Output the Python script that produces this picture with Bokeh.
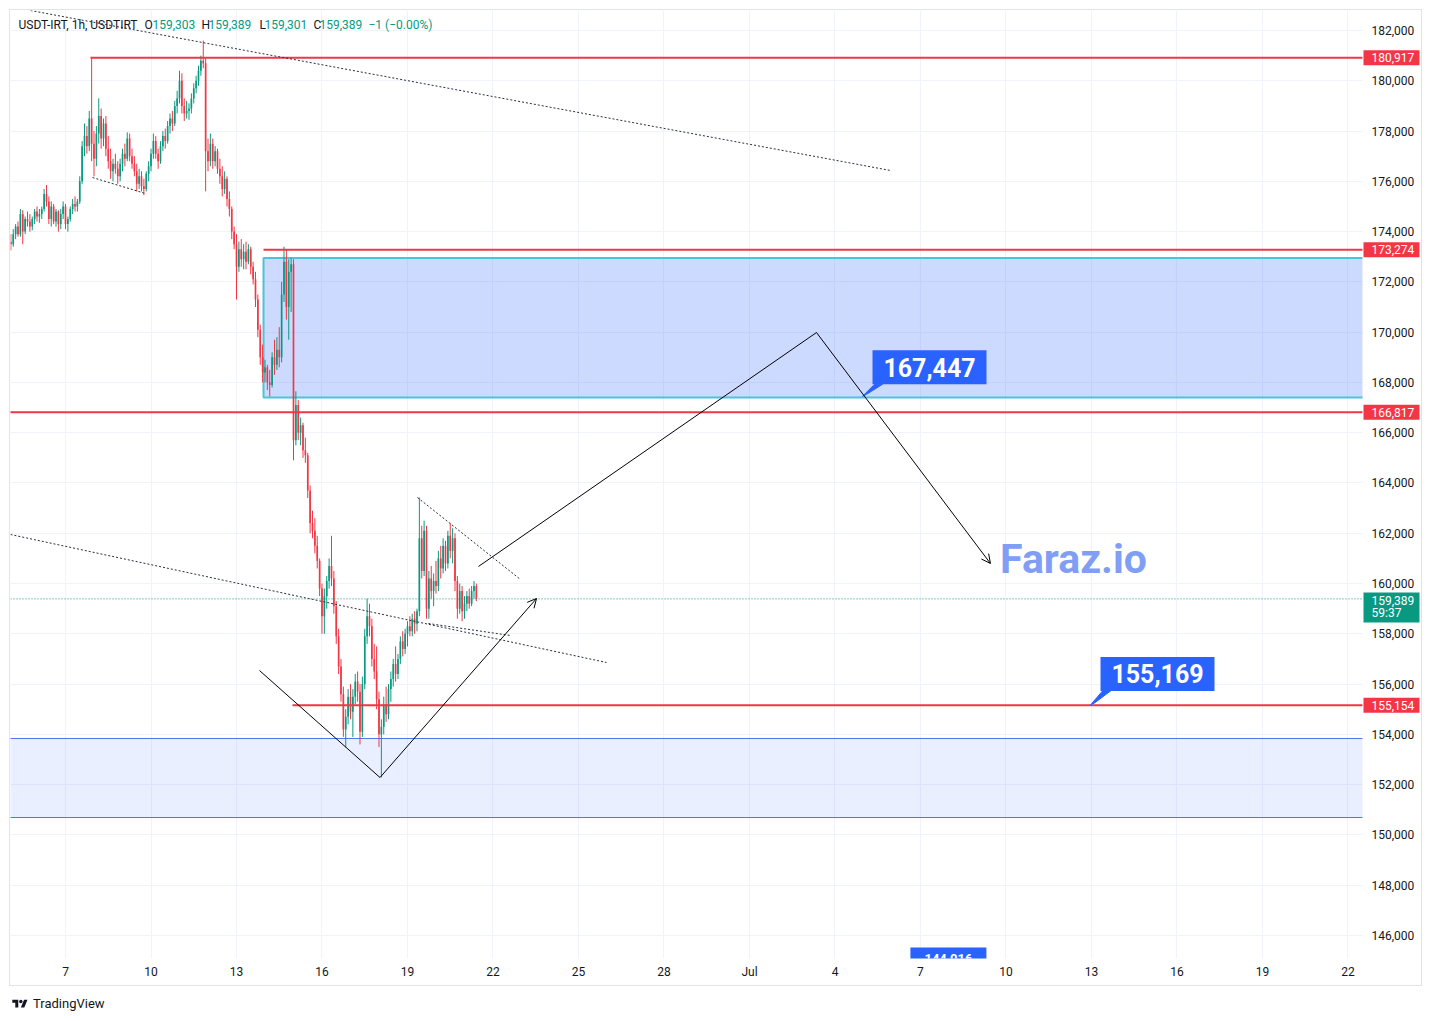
import numpy as np
import pandas as pd
from bokeh.plotting import figure
from bokeh.models import (ColumnDataSource, FixedTicker, Range1d, Label, Arrow,
                          OpenHead, Div, NumeralTickFormatter)
from bokeh.layouts import column
from bokeh.embed import file_html
from bokeh.resources import INLINE
from bokeh.core.properties import value

# ---------------- data ----------------
symbol_title = "USDT-IRT, 1h, USDTIRT"
ohlc_keys = ["O", "H", "L", "C"]
ohlc_vals = ["159,303", "159,389", "159,301", "159,389"]
change_text = "\u22121 (\u22120.00%)"

candle_start = "2025-06-05 02:00"
candle_hours = 2

opens = [173600, 173500, 173900, 174200, 173900, 174700, 174000, 174500, 174400, 174200,
         174500, 174800, 174600, 174700, 174900, 175500, 175200, 174500, 175000, 174400,
         174800, 174300, 174700, 175000, 174300, 174500, 174900, 175100, 175000, 175200,
         176000, 177400, 177800, 177400, 178500, 177500, 176900, 177900, 178600, 177700,
         178300, 177300, 176800, 176400, 176700, 176500, 176200, 176700, 177100, 176900,
         177700, 177000, 176700, 176400, 175900, 176200, 175800, 175700, 176300, 176600,
         177100, 177600, 177100, 176800, 177400, 177800, 177600, 178200, 178500, 178300,
         179000, 179300, 180000, 179000, 178700, 178800, 178900, 179300, 179700, 180000,
         180400, 180800, 180700, 177200, 176800, 177500, 176800, 177200, 176500, 176200,
         175700, 176100, 175300, 174900, 174000, 173500, 172600, 173300, 172900, 173200,
         172800, 173300, 172600, 172100, 171300, 170100, 169000, 168400, 168600, 168000,
         167900, 169000, 168700, 169300, 169000, 171500, 172800, 171000, 172400, 172700,
         165700, 167100, 166000, 166300, 165300, 165100, 163700, 162400, 162100, 161500,
         160900, 159800, 158700, 159500, 160100, 160700, 160200, 159100, 157900, 156700,
         155600, 154200, 154700, 155500, 154900, 155500, 156100, 155700, 154100, 156000,
         157900, 158700, 158300, 157000, 156500, 155400, 154000, 154300, 155200, 154800,
         155800, 156200, 156800, 156400, 157000, 157700, 157400, 158000, 158300, 158100,
         158600, 158400, 158900, 161800, 160500, 162100, 159000, 160200, 159700, 160100,
         159900, 161000, 160600, 161500, 160800, 161900, 161300, 161800, 160100, 159000,
         159700, 158900, 159200, 159500, 159200, 159700, 159900]
highs = [173900, 174100, 174300, 174400, 174900, 174850, 174600, 174800, 174700, 174600,
         174900, 175000, 174900, 175000, 175700, 175850, 175400, 175200, 175100, 174900,
         174850, 174900, 175200, 175100, 174600, 175000, 175300, 175400, 175300, 176200,
         177600, 178300, 178200, 178800, 180917, 178000, 178200, 179300, 178900, 178500,
         178600, 177800, 177300, 176900, 177100, 176800, 176900, 177300, 177500, 177950,
         177900, 177300, 177000, 176700, 176500, 176400, 176100, 176400, 176800, 177300,
         177900, 177800, 177300, 177600, 178000, 178100, 178400, 178700, 178800, 179200,
         179600, 180400, 180300, 179300, 179200, 179100, 179500, 179900, 180200, 180600,
         181000, 181600, 180900, 177700, 177900, 177700, 177400, 177300, 176900, 176600,
         176400, 176200, 175600, 175000, 174200, 173900, 173600, 173700, 173500, 173600,
         173500, 173400, 172800, 172400, 171500, 170300, 169500, 168900, 168700, 168500,
         169200, 169700, 169800, 170200, 172000, 173400, 173300, 172900, 172950, 172900,
         167650, 167300, 166600, 166400, 165800, 165200, 163900, 162900, 162600, 161900,
         161000, 160000, 159800, 160300, 161000, 161900, 160500, 159300, 158200, 157000,
         155900, 155000, 155800, 156000, 155800, 156400, 156500, 156000, 156300, 158200,
         159400, 159200, 158600, 157600, 157500, 155700, 154600, 155500, 155900, 156000,
         156500, 157000, 157500, 157200, 157900, 158100, 158200, 158500, 158700, 158800,
         158900, 159000, 163420, 162300, 162500, 162300, 160500, 160700, 160400, 160900,
         161300, 161500, 161800, 161700, 162100, 162400, 162200, 162000, 160300, 160000,
         159900, 159500, 159700, 159800, 159900, 160100, 160000]
lows = [173250, 173400, 173700, 173800, 173800, 173500, 173900, 174200, 174000, 174050,
        174300, 174400, 174350, 174500, 174800, 175000, 174300, 174200, 174300, 174200,
        174000, 174100, 174500, 174100, 174000, 174400, 174700, 174800, 174800, 175100,
        175900, 177000, 177100, 177200, 176800, 176200, 176600, 177500, 177300, 177400,
        177000, 176500, 176100, 176000, 176300, 175900, 176000, 176400, 176600, 176800,
        176800, 176500, 176200, 175600, 175700, 175600, 175450, 175600, 176000, 176400,
        176900, 176900, 176500, 176700, 177200, 177300, 177500, 177900, 178000, 178200,
        178700, 179100, 178700, 178400, 178500, 178450, 178700, 179100, 179500, 179800,
        180200, 180500, 175600, 176400, 176600, 176500, 176600, 176300, 175900, 175400,
        175500, 175000, 174600, 173700, 173300, 171300, 172400, 172600, 172500, 172500,
        172700, 172300, 171900, 171000, 169800, 168700, 168000, 168000, 167700, 167440,
        167800, 168300, 168500, 168600, 168800, 171200, 170500, 169700, 170800, 164900,
        165500, 165700, 165500, 165000, 164800, 163400, 162000, 161800, 161200, 160600,
        159500, 158000, 158000, 159000, 159800, 159900, 158800, 157600, 156400, 155300,
        153900, 153480, 154400, 154600, 153900, 155200, 155300, 153600, 153900, 155800,
        157600, 157900, 156700, 156200, 155000, 153500, 152290, 154000, 154500, 154600,
        155300, 155900, 156100, 156200, 156800, 157100, 157200, 157500, 157900, 157900,
        158000, 158100, 158700, 160200, 160300, 158600, 158600, 159400, 159100, 159600,
        159700, 160200, 160400, 160500, 160600, 161000, 160800, 159700, 158600, 158800,
        158500, 158600, 158900, 159000, 159100, 159400, 159300]
closes = [173500, 173900, 174200, 173900, 174700, 174000, 174500, 174400, 174200, 174500,
          174800, 174600, 174700, 174900, 175500, 175200, 174500, 175000, 174400, 174800,
          174300, 174700, 175000, 174300, 174500, 174900, 175100, 175000, 175200, 176000,
          177400, 177800, 177400, 178500, 177500, 176900, 177900, 178600, 177700, 178300,
          177300, 176800, 176400, 176700, 176500, 176200, 176700, 177100, 176900, 177700,
          177000, 176700, 176400, 175900, 176200, 175800, 175700, 176300, 176600, 177100,
          177600, 177100, 176800, 177400, 177800, 177600, 178200, 178500, 178300, 179000,
          179300, 180000, 179000, 178700, 178800, 178900, 179300, 179700, 180000, 180400,
          180800, 180700, 177200, 176800, 177500, 176800, 177200, 176500, 176200, 175700,
          176100, 175300, 174900, 174000, 173500, 172600, 173300, 172900, 173200, 172800,
          173300, 172600, 172100, 171300, 170100, 169000, 168400, 168600, 168000, 167900,
          169000, 168700, 169300, 169000, 171500, 172800, 171000, 172400, 172700, 165700,
          167100, 166000, 166300, 165300, 165100, 163700, 162400, 162100, 161500, 160900,
          159800, 158700, 159500, 160100, 160700, 160200, 159100, 157900, 156700, 155600,
          154200, 154700, 155500, 154900, 155500, 156100, 155700, 154100, 156000, 157900,
          158700, 158300, 157000, 156500, 155400, 154000, 154300, 155200, 154800, 155800,
          156200, 156800, 156400, 157000, 157700, 157400, 158000, 158300, 158100, 158600,
          158400, 158900, 161800, 160500, 162100, 159000, 160200, 159700, 160100, 159900,
          161000, 160600, 161500, 160800, 161900, 161300, 161800, 160100, 159000, 159700,
          158900, 159200, 159500, 159200, 159700, 159900, 159389]

last_price = 159389
last_price_text = "159,389"
countdown_text = "59:37"

price_ticks = [146000, 148000, 150000, 152000, 154000, 156000, 158000, 160000, 162000,
               164000, 166000, 168000, 170000, 172000, 174000, 176000, 178000, 180000, 182000]
date_ticks = ["2025-06-07", "2025-06-10", "2025-06-13", "2025-06-16", "2025-06-19",
              "2025-06-22", "2025-06-25", "2025-06-28", "2025-07-01", "2025-07-04",
              "2025-07-07", "2025-07-10", "2025-07-13", "2025-07-16", "2025-07-19",
              "2025-07-22"]
date_labels = ["7", "10", "13", "16", "19", "22", "25", "28", "Jul", "4", "7", "10",
               "13", "16", "19", "22"]

# horizontal levels (red rays)
level_prices = [180917, 173274, 166817, 155154]
level_texts = ["180,917", "173,274", "166,817", "155,154"]
level_starts = ["2025-06-07 21:00", "2025-06-13 22:45", "2025-06-04 00:00", "2025-06-14 23:10"]

# zones
zone_starts = ["2025-06-13 22:45", "2025-06-04 00:00"]
zone_tops = [172950, 153836]
zone_bottoms = [167400, 150693]

# dotted trend lines
trend_t0 = ["2025-06-05 18:30", "2025-06-07 22:45", "2025-06-05 01:40", "2025-06-19 17:40", "2025-06-19 08:25"]
trend_p0 = [182796, 176152, 161951, 158410, 163422]
trend_t1 = ["2025-07-05 22:45", "2025-06-09 19:20", "2025-06-25 23:35", "2025-06-22 14:45", "2025-06-22 23:10"]
trend_p1 = [176431, 175516, 156859, 157933, 160160]

# projected paths (solid black, last leg with arrow)
path1_t = ["2025-06-13 19:20", "2025-06-18 00:50", "2025-06-23 12:40"]
path1_p = [156541, 152284, 159405]
path2_t = ["2025-06-21 11:45", "2025-07-03 08:25", "2025-07-09 10:55"]
path2_p = [160678, 169986, 160797]

# callouts
callout_texts = ["167,447", "155,169"]
callout_t = ["2025-07-04 23:10", "2025-07-12 23:10"]
callout_p = [167447, 155169]
cut_label_text = "144,016"
cut_label_t = "2025-07-07 23:30"
cut_label_p = 144016

watermark = "Faraz.io"
watermark_t = "2025-07-12 08:50"
watermark_p = 160996

# ---------------- styling ----------------
UP = "#089981"
DOWN = "#F23645"
TXT = "#131722"
BLUE = "#2962FF"
FIG_W, FIG_H = 1413, 977
FRAME_W, FRAME_H = 1413, 948
AXIS_W = 61                      # width of the price-scale strip inside the frame

x_start = pd.Timestamp("2025-06-05 01:41")
x_end = pd.Timestamp("2025-07-24 15:35")
y_start, y_end = 145084, 182796


def ms(s):
    return pd.Timestamp(s).value / 1e6


ms_per_px = (ms(x_end) - ms(x_start)) / FRAME_W
price_per_px = (y_end - y_start) / FRAME_H
chart_right = ms(x_end) - AXIS_W * ms_per_px
far_right = ms(x_end) + 5 * 86400000

p = figure(width=FIG_W, height=FIG_H, x_axis_type="datetime", y_axis_location="right",
           x_range=Range1d(ms(x_start), ms(x_end)), y_range=Range1d(y_start, y_end),
           output_backend="svg", toolbar_location=None,
           min_border_left=0, min_border_top=0, min_border_right=0, min_border_bottom=29,
           outline_line_color=None, background_fill_color="white", border_fill_color="white",
           margin=(9, 0, 0, 9), styles={"border": "1px solid #E0E3EB"})

# axes
p.yaxis.ticker = FixedTicker(ticks=price_ticks)
p.yaxis.formatter = NumeralTickFormatter(format="0,0")
tick_ms = [ms(d) for d in date_ticks]
p.xaxis.ticker = FixedTicker(ticks=tick_ms)
p.xaxis.major_label_overrides = {t: lab for t, lab in zip(tick_ms, date_labels)}
for ax in (p.xaxis[0], p.yaxis[0]):
    ax.axis_line_color = None
    ax.major_tick_line_color = None
    ax.minor_tick_line_color = None
    ax.major_tick_out = 0
    ax.major_tick_in = 0
    ax.major_label_text_font = "Roboto"
    ax.major_label_text_font_size = "12px"
    ax.major_label_text_color = TXT
p.yaxis.major_label_standoff = -52
p.xaxis.major_label_standoff = 6
p.xgrid.grid_line_color = "#F0F3FA"
p.ygrid.grid_line_color = "#F0F3FA"

# zones
p.quad(left=[ms(zone_starts[0])], right=[far_right], top=[zone_tops[0]], bottom=[zone_bottoms[0]],
       fill_color=BLUE, fill_alpha=0.235, line_color="#4DC3DA", line_width=2)
p.quad(left=[ms(zone_starts[1])], right=[far_right], top=[zone_tops[1]], bottom=[zone_bottoms[1]],
       fill_color=BLUE, fill_alpha=0.1, line_color="#4A78E8", line_width=1)

# candles
t = pd.date_range(candle_start, periods=len(closes), freq=f"{candle_hours}h")
o = np.array(opens)
c = np.array(closes)
colors = np.where(c >= o, UP, DOWN)
src = ColumnDataSource(dict(t=t, h=highs, l=lows, top=np.maximum(o, c),
                            bot=np.minimum(o, c), color=colors))
p.segment(x0="t", y0="h", x1="t", y1="l", line_color="color", line_width=1, source=src)
p.vbar(x="t", width=candle_hours * 3600 * 1000 * 0.7, top="top", bottom="bot",
       fill_color="color", line_color=None, source=src)

# current price line
p.segment(x0=[ms(x_start)], y0=[last_price], x1=[chart_right], y1=[last_price],
          line_color=UP, line_dash="1 2", line_width=1)

# red levels
for lp, ls in zip(level_prices, level_starts):
    p.segment(x0=[ms(ls)], y0=[lp], x1=[far_right], y1=[lp], line_color=DOWN, line_width=2)

# dotted trend lines
for a, b, cc, d in zip(trend_t0, trend_p0, trend_t1, trend_p1):
    p.line(x=[ms(a), ms(cc)], y=[b, d], line_color="#2A2E39", line_width=1, line_dash="2 2")

# projected paths
for pt, pp in ((path1_t, path1_p), (path2_t, path2_p)):
    p.line(x=[ms(pt[0]), ms(pt[1])], y=[pp[0], pp[1]], line_color="black", line_width=1)
    p.add_layout(Arrow(end=OpenHead(size=9, line_color="black", line_width=1),
                       x_start=ms(pt[1]), y_start=pp[1], x_end=ms(pt[2]), y_end=pp[2],
                       line_color="black", line_width=1))

# callouts (box offset from the anchor in px)
callout_dx = [67, 67]
callout_dy = [29, 31]
for txt, ct, cp, dx, dy in zip(callout_texts, callout_t, callout_p, callout_dx, callout_dy):
    x0 = ms(ct)
    p.patch(x=[x0, x0 + 12 * ms_per_px, x0 + 20 * ms_per_px, x0 + 4 * ms_per_px],
            y=[cp, cp + (dy - 17) * price_per_px, cp + (dy - 17) * price_per_px, cp + 2 * price_per_px],
            fill_color=BLUE, line_color=BLUE, line_width=1)
    p.quad(left=[x0 + (dx - 57) * ms_per_px], right=[x0 + (dx + 57) * ms_per_px],
           top=[cp + (dy + 17) * price_per_px], bottom=[cp + (dy - 17) * price_per_px],
           fill_color=BLUE, line_color=None)
    p.text(x=[x0 + dx * ms_per_px], y=[cp + dy * price_per_px], text=[txt],
           text_align="center", text_baseline="middle", text_font=value("Roboto"),
           text_font_style="bold", text_font_size="25px", text_color="white")

# partially visible label at the bottom edge
cx = ms(cut_label_t)
p.quad(left=[cx - 38 * ms_per_px], right=[cx + 38 * ms_per_px],
       top=[y_start + 11 * price_per_px], bottom=[cut_label_p], fill_color=BLUE, line_color=None)
p.text(x=[cx], y=[y_start + 5 * price_per_px], text=[cut_label_text],
       text_align="center", text_baseline="top", text_font=value("Roboto"),
       text_font_style="bold", text_font_size="13px", text_color="white")

# watermark
p.text(x=[ms(watermark_t)], y=[watermark_p], text=[watermark],
       text_align="center", text_baseline="middle", text_font=value("Roboto"),
       text_font_style="bold", text_font_size="41px", text_color="#809FF4")

# price-scale strip (white) with tags
p.quad(left=[chart_right], right=[far_right], top=[y_end + 5000], bottom=[y_start - 5000],
       fill_color="white", line_color=None)
tag_l = chart_right + 1 * ms_per_px
tag_r = chart_right + 57 * ms_per_px
for lp, lt in zip(level_prices, level_texts):
    p.quad(left=[tag_l], right=[tag_r], top=[lp + 7.5 * price_per_px],
           bottom=[lp - 7.5 * price_per_px], fill_color=DOWN, line_color=None)
    p.text(x=[chart_right + 9 * ms_per_px], y=[lp], text=[lt], text_align="left",
           text_baseline="middle", text_font=value("Roboto"), text_font_size="12px",
           text_color="white")
p.quad(left=[tag_l], right=[tag_r], top=[last_price + 6.5 * price_per_px],
       bottom=[last_price - 23.5 * price_per_px], fill_color=UP, line_color=None)
p.text(x=[chart_right + 9 * ms_per_px], y=[last_price - 1.5 * price_per_px],
       text=[last_price_text], text_align="left", text_baseline="middle",
       text_font=value("Roboto"), text_font_size="12px", text_color="white")
p.text(x=[chart_right + 9 * ms_per_px], y=[last_price - 14.5 * price_per_px],
       text=[countdown_text], text_align="left", text_baseline="middle",
       text_font=value("Roboto"), text_font_size="12px", text_color="white")

# legend / title line
title_parts = [symbol_title] + [v for pair in zip(ohlc_keys, ohlc_vals) for v in pair] + [change_text]
title_colors = [TXT] + [TXT, UP] * 4 + [UP]
title_x = [8, 134, 142, 191, 198, 249, 254, 303, 309, 358]
for txt, col, xx in zip(title_parts, title_colors, title_x):
    p.add_layout(Label(x=xx, y=FRAME_H - 14, x_units="screen", y_units="screen", text=txt,
                       text_align="left", text_baseline="middle", text_font="Roboto",
                       text_font_size="12px", text_color=col))

logo = Div(text=('<div style="display:flex;align-items:center;gap:3px;font-family:Roboto;'
                 'font-size:13px;color:#131722;">'
                 '<svg width="20" height="12" viewBox="0 0 36 28">'
                 '<path d="M14 22H7V11H0V4h14v18zM28 22h-8l7.5-18h8L28 22z" fill="#131722"/>'
                 '<circle cx="20" cy="8" r="4" fill="#131722"/></svg>'
                 '<span>TradingView</span></div>'),
           width=200, height=20, margin=(9, 0, 0, 10))

layout = column(p, logo)
open("out.html", "w").write(file_html(layout, INLINE))
